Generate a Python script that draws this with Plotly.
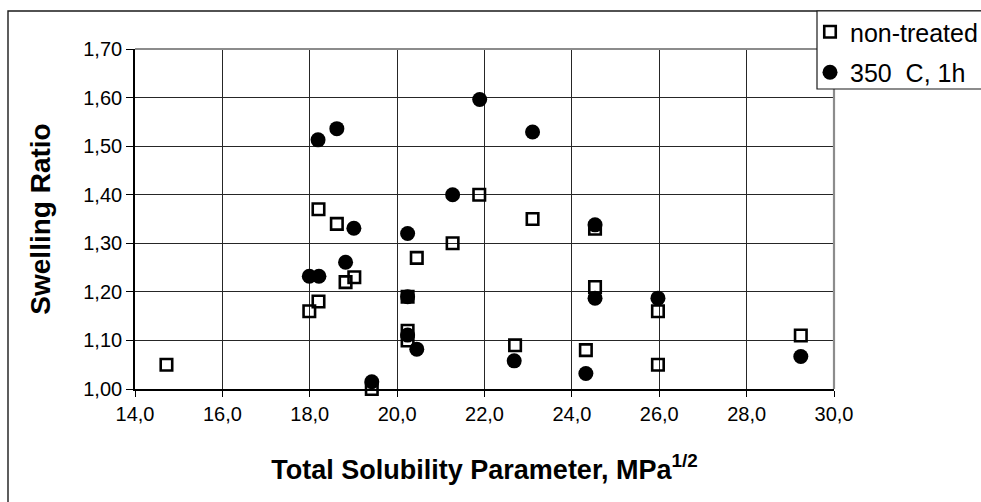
import plotly.graph_objects as go

# Total solubility parameter (MPa^1/2) and swelling ratio per solvent
untreated_x = [14.72, 17.99, 18.20, 18.20, 18.62, 18.82, 19.02, 19.42, 20.24, 20.24, 20.24,
               20.45, 21.27, 21.88, 22.70, 23.10, 24.32, 24.53, 24.53, 25.97, 25.97, 29.24]
untreated_y = [1.05, 1.16, 1.18, 1.37, 1.34, 1.22, 1.23, 1.00, 1.19, 1.12, 1.10,
               1.27, 1.30, 1.40, 1.09, 1.35, 1.08, 1.33, 1.21, 1.16, 1.05, 1.11]

treated_x = [17.99, 18.21, 18.19, 18.62, 18.82, 19.01, 19.42, 20.24, 20.24, 20.24,
             20.45, 21.27, 21.89, 22.68, 23.10, 24.32, 24.53, 24.53, 25.97, 29.24]
treated_y = [1.232, 1.232, 1.513, 1.536, 1.261, 1.331, 1.015, 1.320, 1.190, 1.111,
             1.082, 1.400, 1.596, 1.058, 1.529, 1.032, 1.338, 1.187, 1.187, 1.067]

series_names = ["non-treated", "350  C, 1h"]
x_ticks = [14, 16, 18, 20, 22, 24, 26, 28, 30]
y_ticks = [1.0, 1.1, 1.2, 1.3, 1.4, 1.5, 1.6, 1.7]

FONT = "Arial, 'Liberation Sans', sans-serif"
W, H = 981, 502
L, R, T, B = 135, 147, 49, 113
pw, ph = W - L - R, H - T - B


def px_x(p):
    return (p - L) / pw


def px_y(p):
    return (H - B - p) / ph


fig = go.Figure()
fig.add_trace(go.Scatter(
    x=untreated_x, y=untreated_y, mode="markers", name=series_names[0],
    legendgroup="a",
    marker=dict(symbol="square-open", size=11.5, color="black",
                line=dict(color="black", width=2.6)),
    cliponaxis=False,
))
fig.add_trace(go.Scatter(
    x=treated_x, y=treated_y, mode="markers", name=series_names[1],
    legendgroup="b",
    marker=dict(symbol="circle", size=15, color="black", line=dict(width=0)),
    cliponaxis=False,
))

fig.update_layout(
    width=W, height=H,
    margin=dict(l=L, r=R, t=T, b=B, autoexpand=False),
    paper_bgcolor="white", plot_bgcolor="white",
    separators=", ",
    font=dict(family=FONT, color="black", size=20),
    showlegend=True,
    legend=dict(
        x=px_x(810), y=px_y(9), xanchor="left", yanchor="top",
        bgcolor="rgba(0,0,0,0)", borderwidth=0,
        font=dict(family=FONT, size=25, color="black"),
        tracegroupgap=5, itemwidth=30,
    ),
    xaxis=dict(
        range=[14, 30], tickvals=x_ticks, tickformat=".1f",
        showgrid=True, gridcolor="#262626", gridwidth=1,
        showline=True, linecolor="black", linewidth=1.6,
        ticks="outside", ticklen=6, tickcolor="black", tickwidth=1,
        tickfont=dict(family=FONT, size=20),
        zeroline=False,
        title=dict(text="<b>Total Solubility Parameter, MPa<sup>1/2</sup></b>",
                   font=dict(family=FONT, size=27), standoff=36),
    ),
    yaxis=dict(
        range=[1.0, 1.7], tickvals=y_ticks, tickformat=".2f",
        showgrid=True, gridcolor="#262626", gridwidth=1,
        showline=True, linecolor="black", linewidth=1.6,
        ticks="outside", ticklen=7, tickcolor="black", tickwidth=1,
        tickfont=dict(family=FONT, size=20),
        zeroline=False,
        title=dict(text="<b>Swelling Ratio</b>",
                   font=dict(family=FONT, size=28), standoff=24),
    ),
    shapes=[
        # outer chart frame
        dict(type="rect", xref="paper", yref="paper",
             x0=px_x(8), x1=px_x(1000), y0=px_y(520), y1=px_y(11),
             line=dict(color="#1a1a1a", width=1.4), fillcolor="rgba(0,0,0,0)",
             layer="below"),
        # grey plot-area border on top and right
        dict(type="line", xref="paper", yref="paper", x0=0, x1=1, y0=1, y1=1,
             line=dict(color="#8c8c8c", width=2.2), layer="above"),
        dict(type="line", xref="paper", yref="paper", x0=1, x1=1, y0=0, y1=1,
             line=dict(color="#8c8c8c", width=2.2), layer="above"),
        # legend box
        dict(type="rect", xref="paper", yref="paper",
             x0=px_x(817), x1=px_x(1000), y0=px_y(89), y1=px_y(11),
             line=dict(color="#1a1a1a", width=1.2), fillcolor="white",
             layer="above"),
    ],
)

fig.write_html("out.html")
